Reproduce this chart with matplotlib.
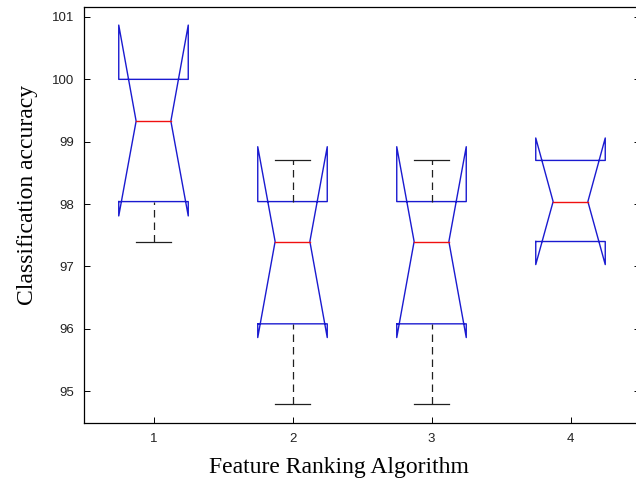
import matplotlib.pyplot as plt

# values (notched boxplot, MATLAB style)
groups = [1, 2, 3, 4]
q1 = [98.04, 96.08, 96.08, 97.40]
q3 = [100.0, 98.04, 98.04, 98.70]
med = [99.33, 97.40, 97.40, 98.04]
notch_lo = [97.81, 95.86, 95.86, 97.03]
notch_hi = [100.87, 98.92, 98.92, 99.06]
wlo = [97.40, 94.79, 94.79, 97.40]
whi = [100.0, 98.70, 98.70, 98.70]

fig = plt.figure(figsize=(6.36, 4.83), dpi=100)
ax = fig.add_axes([84 / 636, 60 / 483, 556 / 636, 416 / 483])

hw = 0.25   # half box width
nw = 0.125  # half width at the notch waist
for i, x in enumerate(groups):
    l, r = x - hw, x + hw
    xs = [l, l, x - nw, l, l, r, r, x + nw, r, r, l]
    ys = [q1[i], notch_lo[i], med[i], notch_hi[i], q3[i], q3[i],
          notch_hi[i], med[i], notch_lo[i], q1[i], q1[i]]
    ax.plot(xs, ys, color='#1a1ad0', lw=1.0)
    ax.plot([x - nw, x + nw], [med[i], med[i]], color='#f01010', lw=1.0)
    # whiskers
    if wlo[i] < q1[i]:
        ax.plot([x, x], [wlo[i], q1[i]], color='#202020', lw=0.9, ls=(0, (6, 4)))
        ax.plot([x - nw, x + nw], [wlo[i], wlo[i]], color='#202020', lw=0.9)
    if whi[i] > q3[i]:
        ax.plot([x, x], [q3[i], whi[i]], color='#202020', lw=0.9, ls=(0, (6, 4)))
        ax.plot([x - nw, x + nw], [whi[i], whi[i]], color='#202020', lw=0.9)

ax.set_xlim(0.5, 4.5)
ax.set_ylim(94.49, 101.16)
ax.set_xticks(groups)
ax.set_yticks([95, 96, 97, 98, 99, 100, 101])
ax.tick_params(direction='in', length=4, right=True, top=False,
               labelsize=9.5, width=0.7, labelcolor='#222222')
for lab in ax.get_xticklabels() + ax.get_yticklabels():
    lab.set_fontfamily('Liberation Sans')
for s in ax.spines.values():
    s.set_linewidth(0.9)
ax.tick_params(axis='x', pad=7)
ax.tick_params(axis='y', pad=7)

ax.set_xlabel('Feature Ranking Algorithm', fontfamily='Liberation Serif',
              fontsize=17)
ax.set_ylabel('Classification accuracy', fontfamily='Liberation Serif',
              fontsize=17)
ax.xaxis.set_label_coords(0.458, -0.106)
ax.yaxis.set_label_coords(-0.1025, 0.549)
ax.xaxis.label.set_va('center')
ax.yaxis.label.set_va('center')

fig.savefig('out.png', dpi=100)
